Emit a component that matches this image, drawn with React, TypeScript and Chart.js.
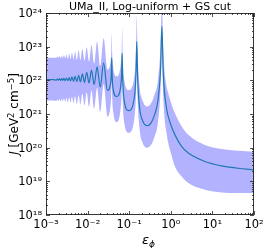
import React, { useEffect, useRef } from "react";
import { Chart, registerables } from "chart.js";

Chart.register(...registerables);

const TITLE = "UMa_II, Log-uniform + GS cut";

// epsilon_phi sample points
const epsilon = [
  0.001, 0.0015, 0.00178, 0.00188, 0.00199, 0.0021, 0.00223, 0.00238, 0.00253, 0.0027,
  0.00289, 0.0031, 0.00334, 0.0036, 0.0039, 0.0042, 0.0046, 0.005, 0.0055, 0.0061,
  0.0067, 0.0075, 0.0084, 0.0095, 0.0108, 0.0124, 0.0144, 0.0169, 0.0201, 0.0243,
  0.03, 0.0357, 0.0372, 0.038, 0.0389, 0.0408, 0.0496, 0.0622, 0.0659, 0.0676,
  0.0697, 0.0745, 0.097, 0.1346, 0.1463, 0.152, 0.1596, 0.1775, 0.21, 0.27,
  0.33, 0.4, 0.49, 0.57, 0.61, 0.66, 0.8, 0.87, 1.0, 1.26,
  1.83, 2.64, 6.6, 16.6, 41, 100,
];

// median J
const jMedian = [
  1.05e22, 1.05e22, 1.02e22, 1.10e22, 1.02e22, 1.11e22, 1.00e22, 1.12e22, 1.00e22, 1.15e22,
  9.77e21, 1.17e22, 9.77e21, 1.20e22, 9.55e21, 1.26e22, 9.33e21, 1.32e22, 9.12e21, 1.41e22,
  8.91e21, 1.55e22, 8.71e21, 1.74e22, 8.32e21, 2.00e22, 7.41e21, 2.51e22, 6.31e21, 3.31e22,
  5.01e21, 8.13e21, 1.78e22, 4.57e22, 1.48e22, 5.89e21, 3.31e21, 6.31e21, 1.78e22, 6.31e22,
  1.17e22, 2.95e21, 1.26e21, 3.55e21, 1.86e22, 1.41e23, 1.20e22, 1.58e21, 6.31e20, 4.47e20,
  5.25e20, 8.91e20, 2.51e21, 2.51e22, 3.98e23, 1.58e22, 1.32e21, 8.32e20, 4.79e20, 2.40e20,
  1.07e20, 6.92e19, 3.89e19, 2.88e19, 2.45e19, 2.19e19,
];

// upper edge of the band
const jUpper = [
  4.68e22, 4.68e22, 4.68e22, 5.13e22, 4.68e22, 5.25e22, 4.57e22, 5.37e22, 4.57e22, 5.62e22,
  4.47e22, 5.89e22, 4.37e22, 6.17e22, 4.27e22, 6.61e22, 4.17e22, 7.08e22, 4.07e22, 7.76e22,
  3.98e22, 8.51e22, 3.80e22, 9.55e22, 3.63e22, 1.12e23, 3.16e22, 1.41e23, 2.69e22, 1.78e23,
  2.09e22, 3.63e22, 8.91e22, 2.51e23, 7.41e22, 2.63e22, 1.32e22, 2.82e22, 8.32e22, 3.55e23,
  5.62e22, 1.26e22, 5.13e21, 1.48e22, 8.91e22, 7.94e23, 6.03e22, 6.61e21, 2.51e21, 1.66e21,
  2.00e21, 3.55e21, 1.00e22, 1.26e23, 2.00e24, 7.94e22, 6.31e21, 4.17e21, 2.24e21, 1.05e21,
  4.27e20, 2.40e20, 1.20e20, 9.12e19, 8.13e19, 7.59e19,
];

// lower edge of the band
const jLower = [
  2.51e21, 2.51e21, 2.45e21, 2.69e21, 2.45e21, 2.75e21, 2.40e21, 2.82e21, 2.34e21, 2.88e21,
  2.29e21, 3.02e21, 2.24e21, 3.09e21, 2.19e21, 3.24e21, 2.09e21, 3.39e21, 2.00e21, 3.63e21,
  1.91e21, 3.98e21, 1.82e21, 4.37e21, 1.66e21, 5.01e21, 1.45e21, 6.03e21, 1.15e21, 7.59e21,
  8.32e20, 1.82e21, 3.98e21, 1.00e22, 3.31e21, 1.32e21, 5.75e20, 1.41e21, 3.98e21, 1.41e22,
  2.63e21, 6.61e20, 2.75e20, 7.94e20, 4.17e21, 3.16e22, 2.69e21, 3.55e20, 1.41e20, 1.00e20,
  1.17e20, 2.00e20, 5.62e20, 6.31e21, 1.00e23, 3.16e21, 2.51e20, 1.35e20, 7.08e19, 2.75e19,
  1.38e19, 8.91e18, 5.62e18, 4.68e18, 4.47e18, 4.47e18,
];

const xTickValues = [1e-3, 1e-2, 1e-1, 1, 10, 100];
const xTickLabels = ["10\u207B\u00B3", "10\u207B\u00B2", "10\u207B\u00B9", "10\u2070", "10\u00B9", "10\u00B2"];
const yTickValues = [1e18, 1e19, 1e20, 1e21, 1e22, 1e23, 1e24];
const yTickLabels = ["10\u00B9\u2078", "10\u00B9\u2079", "10\u00B2\u2070", "10\u00B2\u00B9", "10\u00B2\u00B2", "10\u00B2\u00B3", "10\u00B2\u2074"];

const FONT = "'DejaVu Sans', sans-serif";

const decorPlugin = {
  id: "decor",
  afterDatasetsDraw(chart: any) {
    const { ctx, chartArea: a, scales } = chart;
    const xs = scales.x;
    const ys = scales.y;
    ctx.save();
    ctx.strokeStyle = "#222";
    ctx.lineWidth = 0.9;
    ctx.strokeRect(a.left + 0.5, a.top + 0.5, a.right - a.left - 1, a.bottom - a.top - 1);
    ctx.lineWidth = 0.8;
    ctx.beginPath();
    for (let e = -3; e <= 2; e++) {
      for (let k = 1; k <= 9; k++) {
        const v = k * Math.pow(10, e);
        if (v > 100.0001) break;
        const len = k === 1 ? 4 : 2;
        const px = Math.round(xs.getPixelForValue(v)) + 0.5;
        ctx.moveTo(px, a.bottom);
        ctx.lineTo(px, a.bottom - len);
        ctx.moveTo(px, a.top);
        ctx.lineTo(px, a.top + len);
      }
    }
    for (let e = 18; e <= 24; e++) {
      for (let k = 1; k <= 9; k++) {
        const v = k * Math.pow(10, e);
        if (v > 1.0001e24) break;
        const len = k === 1 ? 4 : 2;
        const py = Math.round(ys.getPixelForValue(v)) + 0.5;
        ctx.moveTo(a.left, py);
        ctx.lineTo(a.left + len, py);
        ctx.moveTo(a.right, py);
        ctx.lineTo(a.right - len, py);
      }
    }
    ctx.stroke();
    ctx.restore();
  },
  afterDraw(chart: any) {
    const { ctx, chartArea: a } = chart;
    ctx.save();
    ctx.fillStyle = "#000";
    ctx.font = `11px ${FONT}`;
    ctx.textAlign = "center";
    ctx.textBaseline = "alphabetic";
    ctx.fillText(TITLE, (a.left + a.right) / 2, 9.5);

    ctx.textAlign = "left";
    ctx.font = `italic 13px ${FONT}`;
    const e1 = "\u03B5";
    const e2 = "\u03D5";
    const w1 = ctx.measureText(e1).width;
    ctx.font = `italic 9px ${FONT}`;
    const w2 = ctx.measureText(e2).width;
    const sx = (a.left + a.right) / 2 - 1.5 - (w1 + w2) / 2;
    ctx.font = `italic 13px ${FONT}`;
    ctx.fillText(e1, sx, 244);
    ctx.font = `italic 9px ${FONT}`;
    ctx.fillText(e2, sx + w1, 246.5);

    const parts: [string, string, number][] = [
      ["J", `italic 12px ${FONT}`, 0],
      [" [GeV", `12px ${FONT}`, 0],
      ["2", `8.5px ${FONT}`, -4.5],
      [" cm", `12px ${FONT}`, 0],
      ["\u22125", `8.5px ${FONT}`, -4.5],
      ["]", `12px ${FONT}`, 0],
    ];
    let total = 0;
    const widths = parts.map(([t, f]) => {
      ctx.font = f;
      const w = ctx.measureText(t).width;
      total += w;
      return w;
    });
    ctx.translate(18, (a.top + a.bottom) / 2);
    ctx.rotate(-Math.PI / 2);
    let cx = -total / 2;
    parts.forEach(([t, f, dy], i) => {
      ctx.font = f;
      ctx.fillText(t, cx, dy);
      cx += widths[i];
    });
    ctx.restore();
  },
};

export default function App() {
  const ref = useRef<HTMLCanvasElement | null>(null);

  useEffect(() => {
    if (!ref.current) return;
    Chart.defaults.font.family = FONT;
    const pts = (arr: number[]) => epsilon.map((x, i) => ({ x, y: arr[i] }));
    const chart = new Chart(ref.current, {
      type: "line",
      data: {
        datasets: [
          {
            label: "median",
            data: pts(jMedian),
            borderColor: "#1f77b4",
            borderWidth: 1.2,
            pointRadius: 0,
            fill: false,
            cubicInterpolationMode: "monotone",
            order: 0,
          },
          {
            label: "upper",
            data: pts(jUpper),
            borderColor: "rgba(0,0,0,0)",
            borderWidth: 0,
            backgroundColor: "rgba(0,0,255,0.3)",
            pointRadius: 0,
            fill: "+1",
            cubicInterpolationMode: "monotone",
            order: 1,
          },
          {
            label: "lower",
            data: pts(jLower),
            borderColor: "rgba(0,0,0,0)",
            borderWidth: 0,
            pointRadius: 0,
            fill: false,
            cubicInterpolationMode: "monotone",
            order: 2,
          },
        ],
      },
      options: {
        animation: false,
        responsive: false,
        devicePixelRatio: 1,
        events: [],
        layout: { padding: { top: 13, right: 13, left: 0, bottom: 0 } },
        plugins: { legend: { display: false }, tooltip: { enabled: false }, title: { display: false } },
        scales: {
          x: {
            type: "logarithmic",
            min: 1e-3,
            max: 100,
            grid: { display: false, drawTicks: false },
            border: { display: false },
            afterBuildTicks: (s: any) => {
              s.ticks = xTickValues.map((value) => ({ value }));
            },
            afterFit: (s: any) => {
              s.height = 33;
            },
            ticks: {
              autoSkip: false,
              maxRotation: 0,
              padding: 3,
              color: "#000",
              font: { size: 11.5, family: FONT },
              callback: (_v: any, i: number) => xTickLabels[i],
            },
          },
          y: {
            type: "logarithmic",
            min: 1e18,
            max: 1e24,
            grid: { display: false, drawTicks: false },
            border: { display: false },
            afterBuildTicks: (s: any) => {
              s.ticks = yTickValues.map((value) => ({ value }));
            },
            afterFit: (s: any) => {
              s.width = 46;
            },
            ticks: {
              autoSkip: false,
              padding: 4,
              labelOffset: 1,
              color: "#000",
              font: { size: 11.5, family: FONT },
              callback: (_v: any, i: number) => yTickLabels[i],
            },
          },
        },
      },
      plugins: [decorPlugin],
    });
    return () => chart.destroy();
  }, []);

  return (
    <div style={{ position: "fixed", left: 0, top: 0, width: 267, height: 248, background: "#fff" }}>
      <canvas ref={ref} width={267} height={248} style={{ display: "block" }} />
    </div>
  );
}
